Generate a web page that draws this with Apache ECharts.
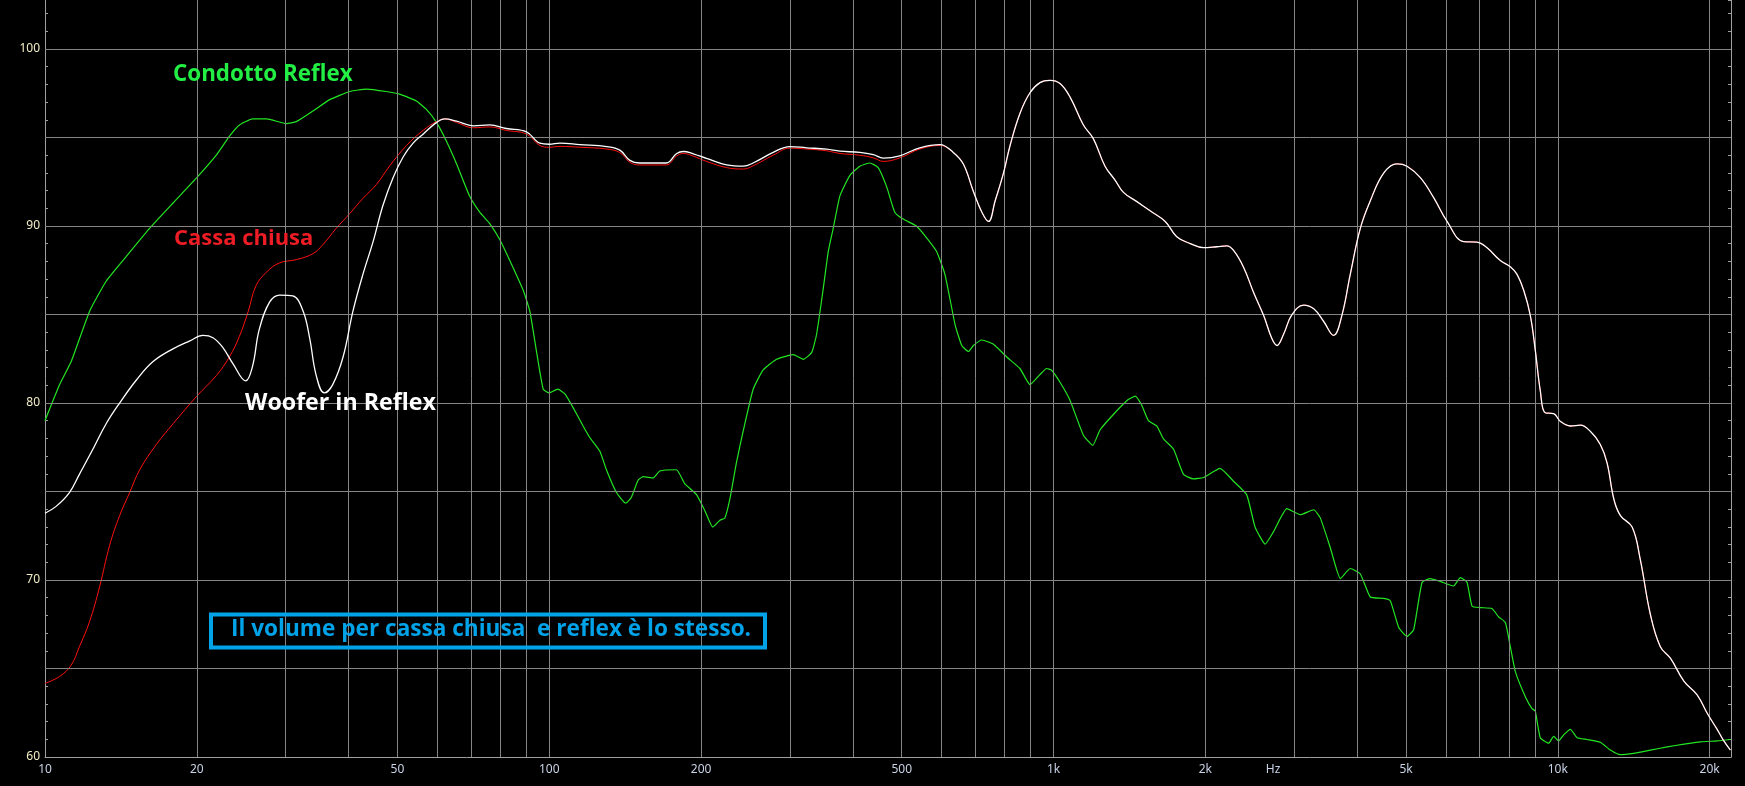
<!DOCTYPE html>
<html>
<head>
<meta charset="utf-8">
<script src="https://cdn.jsdelivr.net/npm/echarts@6/dist/echarts.min.js"></script>
<style>
html,body{margin:0;padding:0;background:#000;}
#chart{width:1745px;height:786px;}
</style>
</head>
<body>
<div id="chart"></div>
<script>
// ---------- DATA ----------
// Condotto Reflex (green)
const reflexPortFreq = [10,10.69,11.27,12.26,13.22,14.27,16.12,17.94,20,21.9,23.2,24.3,25.8,27.5,30.1,31.5,34,36.7,40.2,43.4,47.5,50.5,54.5,57,59.8,62.5,65.5,69.5,72.8,76.2,79.8,83.5,88.8,91.5,94.4,97.3,100,104,107.4,111.5,116.7,120.3,126,129.8,135.9,141.8,145.5,150,153.5,160.8,165.7,178.7,185.6,196,203.6,211,218,223,228,235,242.5,253.7,265.6,282.3,304.6,319,331.5,339,349.5,357.5,365.7,376.9,394.6,413,432.4,449,466.8,484.3,503.2,534.6,559.6,586,609,638,657.6,678,693.5,720.9,760,807.6,857.7,898,940,968.7,991,1030,1079,1146,1196,1237,1314,1397,1452,1496,1542,1603,1652,1729,1810,1894,1983,2139,2275,2416,2510,2628,2730,2903,3085,3281,3380,3539,3706,3876,4058,4248,4515,4653,4837,5022,5178,5380,5585,5848,6214,6407,6605,6760,7020,7400,7630,7870,8050,8240,8630,8890,9020,9230,9590,9810,10040,10270,10590,10920,11430,12140,12710,13310,14140,15260,16480,17790,19200,20710,21990];
const reflexPortDb = [79.0,81.04,82.34,85.19,86.88,88.05,89.87,91.3,92.73,94.03,95.06,95.71,96.05,96.05,95.79,95.9,96.5,97.14,97.6,97.74,97.6,97.45,97.06,96.6,95.84,94.8,93.5,91.69,90.78,90.13,89.22,88.05,86.36,85.19,82.86,80.78,80.57,80.78,80.52,79.74,78.7,78.05,77.27,76.23,74.94,74.34,74.68,75.64,75.84,75.77,76.16,76.23,75.45,74.81,73.9,72.99,73.38,73.51,74.55,76.62,78.44,80.78,81.87,82.47,82.73,82.47,82.86,83.9,86.49,88.57,89.87,91.69,92.86,93.38,93.56,93.3,92.21,90.78,90.39,90.0,89.35,88.57,87.27,84.42,83.25,82.91,83.25,83.56,83.32,82.6,81.95,81.04,81.61,81.95,81.85,81.17,80.13,78.18,77.61,78.49,79.35,80.13,80.39,79.87,79.01,78.7,77.97,77.4,75.97,75.71,75.79,76.31,75.58,74.81,72.99,72.03,72.73,74.03,73.69,73.97,73.51,71.82,70.08,70.65,70.34,69.04,68.96,68.83,67.32,66.81,67.2,69.87,70.08,69.92,69.66,70.13,69.87,68.52,68.44,68.39,67.92,67.6,66.23,64.81,63.38,62.73,62.6,61.09,60.78,61.17,60.91,61.25,61.56,61.09,60.99,60.83,60.39,60.13,60.21,60.39,60.57,60.73,60.86,60.91,60.99];

// Cassa chiusa (red), up to 1 kHz
const closedFreq = [10,10.69,11.27,11.7,12.26,12.83,13.43,14.06,14.72,15.41,16.63,17.95,20,21.88,23.2,24.3,25.3,26.2,27.5,29.2,31.5,34,35.6,37.8,40.2,42.7,45.4,48.2,52.1,56.2,59.7,62.1,65.5,70.7,76.2,82.2,90.1,95.8,100,105,115,130,138,144.5,151,170.7,178.7,184.4,193,205,224.7,242.7,253.6,278,300,323.8,354.8,377,413,439.2,459.5,495.6,543,595.3,632.6,662.4,693.5,720.9,743,766,795.6,820,857.7,898,940,984];
const closedDb = [64.16,64.55,65.19,66.23,67.66,69.61,71.95,73.64,74.94,76.23,77.66,78.83,80.39,81.56,82.6,83.77,85.19,86.62,87.4,87.92,88.1,88.44,88.96,89.87,90.7,91.56,92.34,93.38,94.55,95.4,95.9,96.05,95.85,95.55,95.6,95.4,95.2,94.55,94.45,94.5,94.45,94.35,94.15,93.6,93.45,93.45,93.95,94.1,93.95,93.65,93.3,93.22,93.4,94.0,94.4,94.35,94.25,94.1,94.0,93.85,93.65,93.85,94.35,94.55,94.16,93.5,91.95,90.78,90.26,91.43,92.99,94.55,96.36,97.53,98.1,98.23];

// Woofer in Reflex (white), up to 1 kHz
const wooferFreq = [10,10.52,11.18,11.7,12.45,13.22,14.06,15.18,16.38,17.94,19.37,20.57,21.53,22.55,23.6,25,25.8,26.6,27.9,29.2,31,32.5,33.5,34.5,35.8,37.2,39,40.8,42.7,44.7,46.8,49,51.3,53.7,56.2,59.7,62.1,65.5,70.7,76.2,82.2,90.1,95.8,100,105,115,130,138,144.5,151,170.7,178.7,184.4,193,205,224.7,242.7,253.6,278,300,323.8,354.8,377,413,439.2,459.5,495.6,543,595.3,632.6,662.4,693.5,720.9,743,766,795.6,820,857.7,898,940,984];
const wooferDb = [73.77,74.16,74.94,75.97,77.4,78.83,80.0,81.3,82.34,83.06,83.51,83.82,83.69,83.12,82.21,81.25,82.08,84.16,85.71,86.1,86.05,85.19,83.64,81.56,80.57,81.04,82.6,85.19,87.27,89.09,91.17,92.73,93.9,94.68,95.19,95.84,96.05,95.92,95.66,95.71,95.51,95.32,94.68,94.62,94.68,94.6,94.49,94.29,93.71,93.56,93.56,94.08,94.21,94.08,93.82,93.45,93.38,93.56,94.16,94.49,94.42,94.34,94.23,94.16,94.03,93.84,93.97,94.42,94.6,94.16,93.5,91.95,90.78,90.26,91.43,92.99,94.55,96.36,97.53,98.1,98.23];

// Common part of red and white above 1 kHz
const upperFreq = [1030,1079,1146,1199,1265,1324,1376,1463,1554,1665,1755,1866,1983,2107,2206,2275,2382,2494,2610,2710,2773,2860,2970,3133,3281,3431,3592,3730,3876,4058,4248,4515,4798,5022,5338,5673,6030,6503,6913,7230,7690,8050,8300,8560,8820,9020,9230,9440,9810,10120,10590,11090,11610,12140,12520,12920,13310,14040,14570,15260,15970,16720,17780,18890,19780,20700,21340,21990];
const upperDb = [98.05,97.27,95.71,94.94,93.38,92.6,91.9,91.38,90.86,90.26,89.4,89.01,88.78,88.83,88.88,88.62,87.66,86.23,84.94,83.64,83.25,83.9,84.99,85.53,85.32,84.62,83.82,84.94,87.27,89.87,91.43,92.99,93.51,93.38,92.73,91.6,90.26,89.12,89.09,88.78,88.05,87.7,87.27,86.36,84.94,83.0,80.7,79.45,79.4,78.96,78.7,78.75,78.39,77.66,76.62,74.55,73.64,72.99,71.17,68.05,66.23,65.58,64.29,63.51,62.47,61.56,60.91,60.39];

// Axes
const xTickValues = [10,20,50,100,200,500,1000,2000,2725,5000,10000,20000];
const xTickLabels = ['10','20','50','100','200','500','1k','2k','Hz','5k','10k','20k'];
const xGridValues = [20,30,40,50,60,70,80,90,100,200,300,400,500,600,700,800,900,1000,2000,3000,4000,5000,6000,7000,8000,9000,10000,20000];
const yGridValues = [65,70,75,80,85,90,95,100];
const yLabelValues = [60,70,80,90,100];

const seriesNames = ['Condotto Reflex','Cassa chiusa','Woofer in Reflex'];
const noteText = 'Il volume per cassa chiusa  e reflex è lo stesso.';

// ---------- BUILD ----------
function pairs(f, d){ return f.map((v,i)=>[v, d[i]]); }
const closedData = pairs(closedFreq, closedDb).concat(pairs(upperFreq, upperDb));
const wooferData = pairs(wooferFreq, wooferDb).concat(pairs(upperFreq, upperDb));
const portData = pairs(reflexPortFreq, reflexPortDb);

const chart = echarts.init(document.getElementById('chart'), null, {renderer:'canvas'});
const gridColor = '#858585';
const axisColor = '#a0a0a0';
const yMin = 60, yMax = 102.77;

chart.setOption({
  backgroundColor: '#000',
  animation: false,
  grid: {left: 45, right: 14, top: 0, bottom: 29, containLabel: false},
  xAxis: {
    type: 'log', logBase: 10, min: 10, max: 22050,
    axisLine: {show: true, lineStyle: {color: axisColor, width: 1}},
    axisTick: {show: false},
    splitLine: {show: false},
    axisLabel: {
      customValues: xTickValues,
      formatter: function(v){
        let best = 0, bd = Infinity;
        xTickValues.forEach((t,i)=>{ const d = Math.abs(Math.log10(t) - Math.log10(v)); if (d < bd){bd=d;best=i;} });
        return xTickLabels[best];
      },
      color: '#c8d2e6', fontSize: 12, fontFamily: 'Noto Sans', margin: 7,
      showMinLabel: true, showMaxLabel: true, hideOverlap: false
    }
  },
  yAxis: [{
    type: 'value', min: yMin, max: yMax, interval: 1, position: 'left',
    axisLine: {show: true, lineStyle: {color: axisColor, width: 1}},
    axisTick: {show: true, inside: true, length: 3, lineStyle: {color: axisColor}},
    splitLine: {show: false},
    axisLabel: {
      formatter: v => yLabelValues.includes(v) ? String(v) : '',
      color: '#f2eec6', fontSize: 12, fontFamily: 'Noto Sans', margin: 5,
      showMaxLabel: false
    }
  },{
    type: 'value', min: yMin, max: yMax, interval: 1, position: 'right',
    axisLine: {show: true, onZero: false, lineStyle: {color: axisColor, width: 1}},
    axisTick: {show: true, inside: true, length: 3, lineStyle: {color: axisColor}},
    splitLine: {show: false},
    axisLabel: {show: false}
  }],
  series: [
    {
      type: 'line', name: 'grid', data: [], z: 1, silent: true,
      markLine: {
        silent: true, symbol: ['none','none'], animation: false,
        label: {show: false},
        lineStyle: {color: gridColor, width: 1, type: 'solid'},
        emphasis: {disabled: true},
        data: xGridValues.map(v => ({xAxis: v})).concat(yGridValues.map(v => ({yAxis: v})))
      }
    },
    {
      type: 'line', name: seriesNames[0], data: portData, z: 3,
      showSymbol: false, smooth: 0.15, silent: true,
      lineStyle: {color: '#22e622', width: 1.2}
    },
    {
      type: 'line', name: seriesNames[1], data: closedData, z: 4,
      showSymbol: false, smooth: 0.4, silent: true,
      lineStyle: {color: '#ff1010', width: 1.0}
    },
    {
      type: 'line', name: seriesNames[2], data: wooferData, z: 5,
      showSymbol: false, smooth: 0.4, silent: true,
      lineStyle: {color: '#ffffff', width: 1.3}
    }
  ],
  graphic: [
    {type: 'text', left: 173, top: 64, z: 100, style: {text: seriesNames[0], fill: '#22ee44', font: 'bold 22.4px "Open Sans"'}},
    {type: 'text', left: 174, top: 228, z: 100, style: {text: seriesNames[1], fill: '#ee1c24', font: 'bold 22px "Open Sans"'}},
    {type: 'text', left: 245, top: 392, z: 100, style: {text: seriesNames[2], fill: '#ffffff', font: 'bold 23.2px "Open Sans"'}},
    {type: 'rect', z: 100, shape: {x: 211, y: 614.5, width: 554, height: 33}, style: {fill: 'rgba(0,0,0,0)', stroke: '#00a2e8', lineWidth: 4}},
    {type: 'text', left: 231, top: 618, z: 101, style: {text: noteText, fill: '#00a2e8', font: 'bold 22.6px "Open Sans"'}}
  ]
});
</script>
</body>
</html>
